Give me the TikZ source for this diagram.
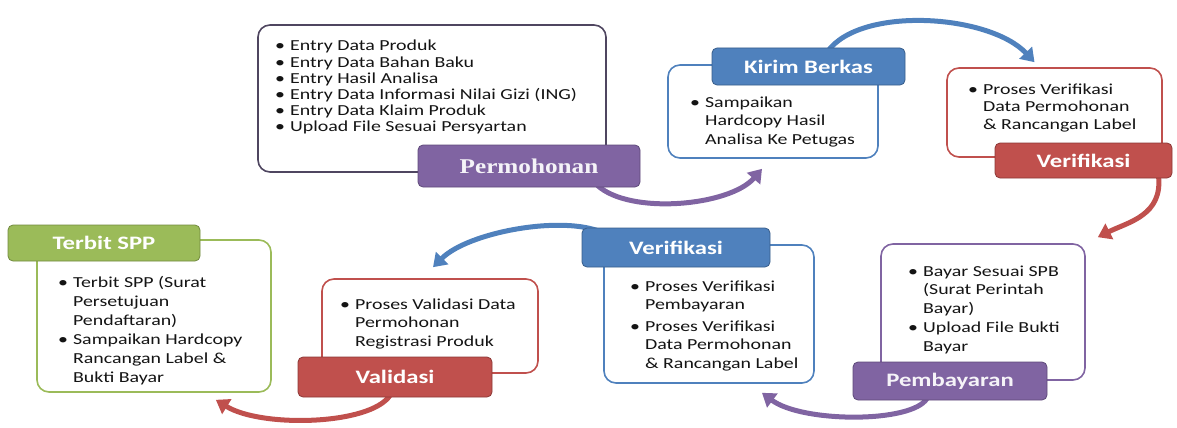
\documentclass[tikz,border=0pt]{standalone}
\usepackage{fontspec}
\setmainfont[FakeStretch=1.3]{Carlito}
\newfontfamily\headserif[FakeStretch=1.2]{Liberation Serif}
\usetikzlibrary{arrows.meta,backgrounds}

\definecolor{purp}{HTML}{8064A2}
\definecolor{purpdark}{HTML}{5E4A7A}
\definecolor{permline}{HTML}{4F4660}
\definecolor{blu}{HTML}{4F81BD}
\definecolor{bludark}{HTML}{385D8A}
\definecolor{redd}{HTML}{C0504D}
\definecolor{reddark}{HTML}{8C3836}
\definecolor{grn}{HTML}{9BBB59}
\definecolor{grndark}{HTML}{71893F}
\definecolor{ink}{HTML}{141414}

\newenvironment{bl}{\begin{tabular}[t]{@{}l@{\hspace{5pt}}l@{}}}{\end{tabular}}

\begin{document}
\begin{tikzpicture}[
  x=1pt, y=-1pt,
  card/.style={draw, line width=1.6pt, rounded corners=12pt, fill=white, inner sep=0pt},
  tag/.style={rounded corners=5pt, line width=0.8pt, inner sep=0pt, text=white,
    font=\fontsize{19}{22}\selectfont\bfseries},
  items/.style={anchor=base west, inner sep=0pt, text=ink, font=\fontsize{15.3}{18.5}\selectfont},
  flow/.style={line width=5pt, -{Triangle[length=13pt,width=17pt]}}
]
\useasboundingbox (0,0) rectangle (1177,428);

\node[card, draw=permline, minimum width=348pt, minimum height=147pt] (perm) at (432,98.5) {};
\node[items, font=\fontsize{15.3}{16.2}\selectfont] (permtxt) at (275,51) {\begin{bl}
\textbullet & Entry Data Produk\\
\textbullet & Entry Data Bahan Baku\\
\textbullet & Entry Hasil Analisa\\
\textbullet & Entry Data Informasi Nilai Gizi (ING)\\
\textbullet & Entry Data Klaim Produk\\
\textbullet & Upload File Sesuai Persyartan
\end{bl}};
\node[tag, fill=purp, draw=purpdark, minimum width=222pt, minimum height=42pt,
  text=purp!8, font=\fontsize{21}{24}\selectfont\headserif\bfseries] (permtag) at (529,166) {Permohonan};

\node[card, draw=blu, minimum width=210pt, minimum height=93pt] (kirim) at (773,111.5) {};
\node[items] (kirimtxt) at (690,107) {\begin{bl}
\textbullet & Sampaikan\\
 & Hardcopy Hasil\\
 & Analisa Ke Petugas
\end{bl}};
\node[tag, fill=blu, draw=bludark, minimum width=193pt, minimum height=37pt] (kirimtag) at (808.5,66.5) {Kirim Berkas};

\node[card, draw=redd, minimum width=215pt, minimum height=89pt] (verif) at (1054.5,112.5) {};
\node[items, font=\fontsize{15.3}{17.5}\selectfont] (veriftxt) at (968,94) {\begin{bl}
\textbullet & Proses Verifikasi\\
 & Data Permohonan\\
 & \& Rancangan Label
\end{bl}};
\node[tag, fill=redd, draw=reddark, minimum width=177pt, minimum height=35pt] (veriftag) at (1083.5,160.5) {Verifikasi};

\node[card, draw=purp, minimum width=204pt, minimum height=136pt] (bayar) at (983,312) {};
\node[items] (bayartxt) at (908,276) {\begin{bl}
\textbullet & Bayar Sesuai SPB\\
 & (Surat Perintah\\
 & Bayar)\\[1pt]
\textbullet & Upload File Bukti\\
 & Bayar
\end{bl}};
\node[tag, fill=purp, draw=purpdark, minimum width=194pt, minimum height=38pt, text=purp!8] (bayartag) at (950,381) {Pembayaran};

\node[card, draw=blu, minimum width=210pt, minimum height=138pt] (cek) at (709,314) {};
\node[items] (cektxt) at (630,291) {\begin{bl}
\textbullet & Proses Verifikasi\\
 & Pembayaran\\[3pt]
\textbullet & Proses Verifikasi\\
 & Data Permohonan\\
 & \& Rancangan Label
\end{bl}};
\node[tag, fill=blu, draw=bludark, minimum width=188pt, minimum height=39pt] (cektag) at (676,247.5) {Verifikasi};

\node[card, draw=redd, minimum width=216pt, minimum height=94pt] (valid) at (430,326) {};
\node[items] (validtxt) at (340,309) {\begin{bl}
\textbullet & Proses Validasi Data\\
 & Permohonan\\
 & Registrasi Produk
\end{bl}};
\node[tag, fill=redd, draw=reddark, minimum width=194pt, minimum height=40pt] (validtag) at (395,377) {Validasi};

\node[card, draw=grn, minimum width=234pt, minimum height=152pt] (terbit) at (154,316) {};
\node[items, font=\fontsize{15.3}{19}\selectfont] (terbittxt) at (58,287) {\begin{bl}
\textbullet & Terbit SPP (Surat\\
 & Persetujuan\\
 & Pendaftaran)\\
\textbullet & Sampaikan Hardcopy\\
 & Rancangan Label \&\\
 & Bukti Bayar
\end{bl}};
\node[tag, fill=grn, draw=grndark, minimum width=192pt, minimum height=36pt] (terbittag) at (104,243) {Terbit SPP};

\coordinate (kirimin) at ([xshift=-11pt,yshift=-10pt]kirim.south);
\coordinate (verifin) at ([xshift=-20pt,yshift=5pt]verif.north);
\coordinate (bayarin) at ([xshift=12pt,yshift=6pt]bayar.north east);
\coordinate (cekin) at ([xshift=53pt,yshift=-9pt]cek.south);
\coordinate (validin) at ([xshift=3pt,yshift=11pt]valid.north);
\coordinate (terbitin) at ([xshift=-56pt,yshift=-7pt]terbit.south east);

\begin{scope}[on background layer]
\draw[flow, purp] ([xshift=-43pt,yshift=2pt]permtag.south east) .. controls +(33,30) and +(-32,37) .. (kirimin);
\draw[flow, blu] ([xshift=19pt,yshift=-4pt]kirimtag.north) .. controls +(33,-46) and +(-45,-48) .. (verifin);
\draw[flow, redd] ([xshift=-14pt,yshift=3pt]veriftag.south east) .. controls +(5,40) and +(30,-15) .. (bayarin);
\draw[flow, purp] ([xshift=-23pt,yshift=2pt]bayartag.south) .. controls +(-15,25) and +(40,30) .. (cekin);
\draw[flow, blu] ([xshift=21pt,yshift=-5pt]cektag.north west) .. controls +(-40,-18) and +(35,-35) .. (validin);
\draw[flow, redd] ([xshift=-5pt,yshift=2pt]validtag.south) .. controls +(-20,30) and +(45,28) .. (terbitin);
\end{scope}
\end{tikzpicture}
\end{document}
